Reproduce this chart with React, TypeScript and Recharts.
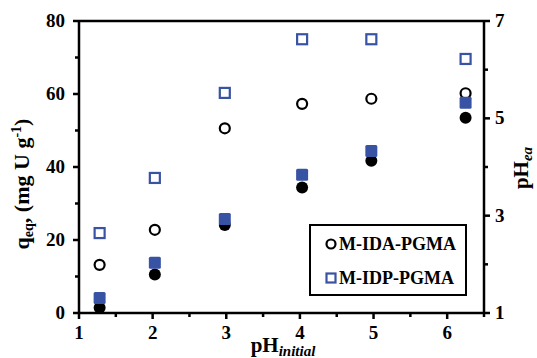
import React from "react";
import { ComposedChart, Scatter, XAxis, YAxis, ReferenceLine, Label } from "recharts";

const phInitial = [1.28, 2.03, 2.98, 4.03, 4.97, 6.25];
const idaQ = [13.2, 22.8, 50.6, 57.3, 58.7, 60.2];
const idpQ = [21.9, 37.0, 60.3, 75.0, 75.0, 69.6];
const idaPhEq = [1.11, 1.79, 2.81, 3.58, 4.13, 5.01];
const idpPhEq = [1.31, 2.03, 2.93, 3.84, 4.33, 5.32];

const xTicks = [1, 1.5, 2, 2.5, 3, 3.5, 4, 4.5, 5, 5.5, 6, 6.5];
const qTicks = [0, 10, 20, 30, 40, 50, 60, 70, 80];
const phTicks = [1, 2, 3, 4, 5, 6, 7];

const BLUE = "#3953a4";
const FONT = "'Liberation Serif', 'Times New Roman', serif";

const data = phInitial.map((x, i) => ({
  x,
  idaQ: idaQ[i],
  idpQ: idpQ[i],
  idaPh: idaPhEq[i],
  idpPh: idpPhEq[i],
}));

const OpenCircle = (p: any) => (
  <circle cx={p.cx} cy={p.cy} r={5} fill="#fff" stroke="#000" strokeWidth={2.2} />
);
const FilledCircle = (p: any) => <circle cx={p.cx} cy={p.cy} r={6} fill="#000" />;
const OpenSquare = (p: any) => (
  <rect x={p.cx - 5} y={p.cy - 5} width={10} height={10} fill="#fff" stroke={BLUE} strokeWidth={2.2} />
);
const FilledSquare = (p: any) => (
  <rect x={p.cx - 6} y={p.cy - 6} width={12} height={12} rx={1.5} fill={BLUE} />
);

const XTick = (p: any) => {
  const v = p.payload.value;
  const major = Number.isInteger(v);
  return (
    <g>
      <line x1={p.x} x2={p.x} y1={p.y} y2={p.y + (major ? 6 : 4)} stroke="#000" strokeWidth={2.5} />
      {major && (
        <text x={p.x} y={p.y + 26} textAnchor="middle" fontFamily={FONT} fontWeight="bold" fontSize={19} fill="#000">
          {v}
        </text>
      )}
    </g>
  );
};

const LeftTick = (p: any) => {
  const v = p.payload.value;
  const major = v % 20 === 0;
  return (
    <g>
      <line x1={p.x - (major ? 6 : 4)} x2={p.x} y1={p.y} y2={p.y} stroke="#000" strokeWidth={2.5} />
      {major && (
        <text x={p.x - 14} y={p.y + 6} textAnchor="end" fontFamily={FONT} fontWeight="bold" fontSize={19} fill="#000">
          {v}
        </text>
      )}
    </g>
  );
};

const RightTick = (p: any) => {
  const v = p.payload.value;
  const major = v % 2 === 1;
  return (
    <g>
      <line x1={p.x} x2={p.x + (major ? 6 : 4)} y1={p.y} y2={p.y} stroke="#000" strokeWidth={2.5} />
      {major && (
        <text x={p.x + 11} y={p.y + 6} textAnchor="start" fontFamily={FONT} fontWeight="bold" fontSize={19} fill="#000">
          {v}
        </text>
      )}
    </g>
  );
};

const LegendBox = () => (
  <div
    style={{
      position: "absolute",
      left: 309,
      top: 224,
      width: 154,
      height: 68,
      border: "2.5px solid #000",
      background: "#fff",
      fontFamily: FONT,
      fontWeight: "bold",
      fontSize: 18,
      color: "#000",
    }}
  >
    <div style={{ display: "flex", alignItems: "center", height: 34, paddingLeft: 14, paddingTop: 1 }}>
      <svg width={13} height={12} style={{ marginRight: 1 }}>
        <circle cx={6} cy={6} r={4.5} fill="#fff" stroke="#000" strokeWidth={2.2} />
      </svg>
      M-IDA-PGMA
    </div>
    <div style={{ display: "flex", alignItems: "center", height: 34, paddingLeft: 14 }}>
      <svg width={13} height={12} style={{ marginRight: 1 }}>
        <rect x={1.5} y={1.5} width={9} height={9} fill="#fff" stroke={BLUE} strokeWidth={2.2} />
      </svg>
      M-IDP-PGMA
    </div>
  </div>
);

export default function App() {
  return (
    <div style={{ position: "absolute", left: 0, top: 0, width: 537, height: 358, background: "#fff" }}>
      <ComposedChart width={537} height={358} data={data} margin={{ top: 21, right: 0, left: 0, bottom: 0 }}>
        <XAxis
          dataKey="x"
          type="number"
          domain={[1, 6.5]}
          ticks={xTicks}
          interval={0}
          height={45}
          tickSize={0}
          tickMargin={0}
          tick={<XTick />}
          axisLine={{ stroke: "#000", strokeWidth: 2.5 }}
          tickLine={false}
        >
          <Label
            content={() => (
              <text x={283} y={352} textAnchor="middle" fontFamily={FONT} fontWeight="bold" fontSize={21} fill="#000">
                pH
                <tspan fontStyle="italic" fontSize={15} dy={4}>
                  initial
                </tspan>
              </text>
            )}
          />
        </XAxis>
        <YAxis
          yAxisId="left"
          type="number"
          domain={[0, 80]}
          ticks={qTicks}
          interval={0}
          width={79}
          tickSize={0}
          tickMargin={0}
          tick={<LeftTick />}
          axisLine={{ stroke: "#000", strokeWidth: 2.5 }}
          tickLine={false}
        >
          <Label
            content={() => (
              <text
                x={0}
                y={0}
                transform="translate(29,184) rotate(-90)"
                textAnchor="middle"
                fontFamily={FONT}
                fontWeight="bold"
                fontSize={22}
                fill="#000"
              >
                q
                <tspan fontSize={14} dy={4}>eq</tspan>
                <tspan dy={-4}>, (mg U g</tspan>
                <tspan fontSize={14} dy={-8}>-1</tspan>
                <tspan dy={8}>)</tspan>
              </text>
            )}
          />
        </YAxis>
        <YAxis
          yAxisId="right"
          orientation="right"
          type="number"
          domain={[1, 7]}
          ticks={phTicks}
          interval={0}
          width={53}
          tickSize={0}
          tickMargin={0}
          tick={<RightTick />}
          axisLine={{ stroke: "#000", strokeWidth: 2.5 }}
          tickLine={false}
        >
          <Label
            content={() => (
              <text
                x={0}
                y={0}
                transform="translate(528,168) rotate(-90)"
                textAnchor="middle"
                fontFamily={FONT}
                fontWeight="bold"
                fontSize={21}
                fill="#000"
              >
                pH
                <tspan fontStyle="italic" fontSize={15} dy={4}>ea</tspan>
              </text>
            )}
          />
        </YAxis>
        <ReferenceLine yAxisId="left" y={80} stroke="#000" strokeWidth={2.5} />
        <Scatter yAxisId="right" dataKey="idaPh" name="M-IDA-PGMA pH" shape={<FilledCircle />} isAnimationActive={false} />
        <Scatter yAxisId="left" dataKey="idaQ" name="M-IDA-PGMA" shape={<OpenCircle />} isAnimationActive={false} />
        <Scatter yAxisId="right" dataKey="idpPh" name="M-IDP-PGMA pH" shape={<FilledSquare />} isAnimationActive={false} />
        <Scatter yAxisId="left" dataKey="idpQ" name="M-IDP-PGMA" shape={<OpenSquare />} isAnimationActive={false} />
      </ComposedChart>
      <LegendBox />
    </div>
  );
}
